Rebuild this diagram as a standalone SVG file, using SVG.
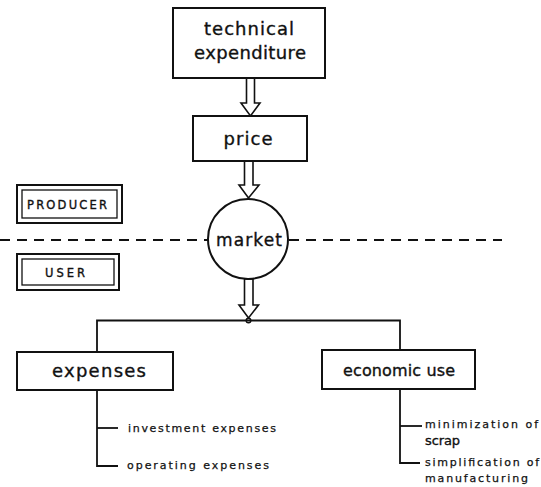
<svg xmlns="http://www.w3.org/2000/svg" width="541" height="487" viewBox="0 0 541 487">
  <defs>
    <style>
      .box { fill: #fff; stroke: #111; stroke-width: 2; }
      .frame { fill: none; stroke: #111; stroke-width: 1.3; }
      .line { fill: none; stroke: #111; stroke-width: 1.8; }
      .dash { fill: none; stroke: #111; stroke-width: 1.8; stroke-dasharray: 10 7; }
      .arrow { fill: #fff; stroke: #111; stroke-width: 1.6; stroke-linejoin: miter; }
      text { font-family: "DejaVu Sans", "Liberation Sans", sans-serif; fill: #111; stroke: #111; stroke-width: 0.35; }
      .big { font-size: 18px; }
      .mid { font-size: 17px; }
      .tag { font-size: 11.5px; }
      .small { font-size: 11px; stroke-width: 0.25; }
    </style>
  </defs>

  <!-- producer / user boundary -->
  <g id="boundary">
    <line class="dash" x1="0" y1="240" x2="208" y2="240"/>
    <line class="dash" x1="289" y1="240" x2="502" y2="240"/>
  </g>

  <!-- connectors -->
  <g id="connectors">
    <path class="arrow" d="M 246.5 78 L 254.5 78 L 254.5 103 L 260 103 L 250.5 116 L 241 103 L 246.5 103 Z"/>
    <path class="arrow" d="M 244.5 161 L 253 161 L 253 185 L 259 185 L 248.5 198 L 239 185 L 244.5 185 Z"/>
    <path class="arrow" d="M 244.5 279 L 253 279 L 253 305 L 258.5 305 L 248.5 318 L 239 305 L 244.5 305 Z"/>
    <circle cx="248.5" cy="320.5" r="2.3" fill="#fff" stroke="#111" stroke-width="1.5"/>
    <path class="line" d="M 97 352 L 97 320.5 L 400 320.5 L 400 350"/>
    <!-- expenses branches -->
    <path class="line" d="M 97 390 L 97 466 L 118 466"/>
    <line class="line" x1="97" y1="428" x2="118" y2="428"/>
    <!-- economic use branches -->
    <path class="line" d="M 400 389 L 400 463 L 420 463"/>
    <line class="line" x1="400" y1="426" x2="422" y2="426"/>
  </g>

  <g id="technical-expenditure">
    <rect class="box" x="173" y="8" width="152" height="70"/>
    <text class="big" x="249" y="35" text-anchor="middle" textLength="90" lengthAdjust="spacing">technical</text>
    <text class="big" x="250" y="59" text-anchor="middle" textLength="112" lengthAdjust="spacing">expenditure</text>
  </g>

  <g id="price">
    <rect class="box" x="193" y="116" width="114" height="45"/>
    <text class="big" x="248" y="145" text-anchor="middle" textLength="49" lengthAdjust="spacing">price</text>
  </g>

  <g id="market">
    <circle class="box" cx="248" cy="239" r="40"/>
    <text class="mid" x="249" y="246" text-anchor="middle" textLength="66" lengthAdjust="spacing">market</text>
  </g>

  <g id="producer">
    <rect class="box" x="17" y="185" width="105" height="38"/>
    <rect class="frame" x="22" y="190" width="95" height="28"/>
    <text class="tag" x="67" y="209" text-anchor="middle" textLength="80" lengthAdjust="spacing">PRODUCER</text>
  </g>

  <g id="user">
    <rect class="box" x="17" y="254" width="102" height="36"/>
    <rect class="frame" x="22" y="259" width="92" height="26"/>
    <text class="tag" x="65" y="277" text-anchor="middle" textLength="40" lengthAdjust="spacing">USER</text>
  </g>

  <g id="expenses">
    <rect class="box" x="17" y="352" width="156" height="38"/>
    <text class="big" x="99" y="377" text-anchor="middle" textLength="94" lengthAdjust="spacing">expenses</text>
    <text class="small" x="128" y="432" textLength="148" lengthAdjust="spacing">investment expenses</text>
    <text class="small" x="127" y="469" textLength="142" lengthAdjust="spacing">operating expenses</text>
  </g>

  <g id="economic-use">
    <rect class="box" x="322" y="350" width="153" height="39"/>
    <text x="399" y="376" font-size="16" text-anchor="middle" textLength="112" lengthAdjust="spacing">economic use</text>
    <text class="small" x="425" y="428" textLength="113" lengthAdjust="spacing">minimization of</text>
    <text x="425" y="445" font-size="13" textLength="35" lengthAdjust="spacing">scrap</text>
    <text class="small" x="425" y="466" textLength="114" lengthAdjust="spacing">simplification of</text>
    <text class="small" x="425" y="482" textLength="103" lengthAdjust="spacing">manufacturing</text>
  </g>
</svg>
